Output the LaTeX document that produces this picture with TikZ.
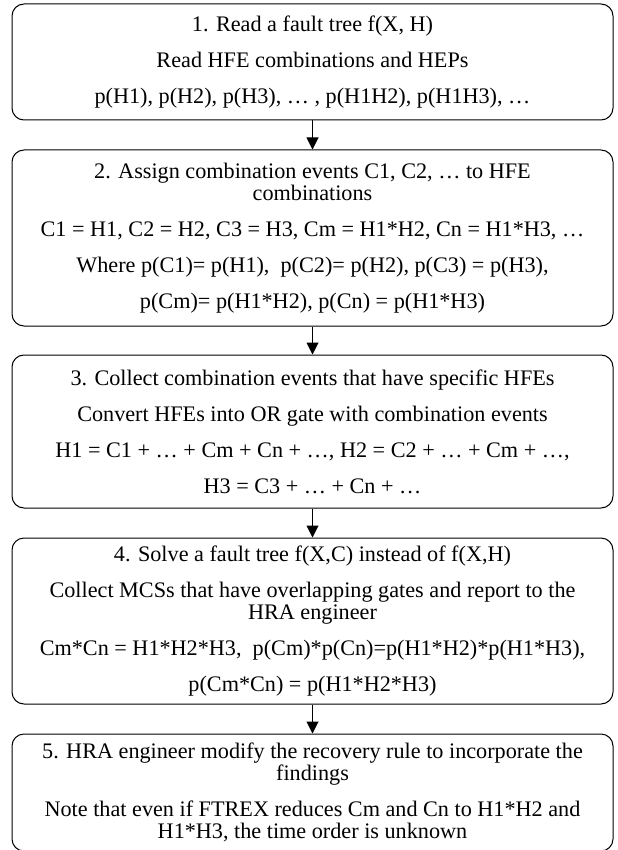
\documentclass[tikz,border=0pt]{standalone}
\usepackage{fontspec}
\setmainfont{Liberation Serif}
\usetikzlibrary{arrows.meta}
\tikzset{
  stepbox/.style={draw, rounded corners=6pt, line width=0.5pt, align=center,
    minimum width=300.5pt, inner sep=0pt, font=\fontsize{11.1}{11}\selectfont},
  flow/.style={-{Triangle[width=6pt,length=6pt]}, line width=0.5pt}
}
\begin{document}
\begin{tikzpicture}[x=0.5pt,y=-0.5pt] % pixel coordinates
\useasboundingbox (0,0) rectangle (617,850);

\node[stepbox, minimum height=58pt] (s1) at (312.5,62)
  {1. Read a fault tree f(X, H)\\[7pt]
   Read HFE combinations and HEPs\\[7pt]
   p(H1), p(H2), p(H3), … , p(H1H2), p(H1H3), …};

\node[stepbox, minimum height=88pt] (s2) at (312.5,238)
  {2. Assign combination events C1, C2, … to HFE\\
   combinations\\[7pt]
   C1 = H1, C2 = H2, C3 = H3, Cm = H1*H2, Cn = H1*H3, …\\[7pt]
   Where p(C1)= p(H1), \ p(C2)= p(H2), p(C3) = p(H3),\\[7pt]
   p(Cm)= p(H1*H2), p(Cn) = p(H1*H3)};

\node[stepbox, minimum height=76.5pt] (s3) at (312.5,431.5)
  {3. Collect combination events that have specific HFEs\\[7pt]
   Convert HFEs into OR gate with combination events\\[7pt]
   H1 = C1 + … + Cm + Cn + …, H2 = C2 + … + Cm + …,\\[7pt]
   H3 = C3 + … + Cn + …};

\node[stepbox, minimum height=83pt] (s4) at (312.5,621)
  {4. Solve a fault tree f(X,C) instead of f(X,H)\\[7pt]
   Collect MCSs that have overlapping gates and report to the\\
   HRA engineer\\[7pt]
   Cm*Cn = H1*H2*H3, \ p(Cm)*p(Cn)=p(H1*H2)*p(H1*H3),\\[7pt]
   p(Cm*Cn) = p(H1*H2*H3)};

\node[stepbox, minimum height=58.5pt] (s5) at (312.5,792.5)
  {5. HRA engineer modify the recovery rule to incorporate the\\
   findings\\[7pt]
   Note that even if FTREX reduces Cm and Cn to H1*H2 and\\
   H1*H3, the time order is unknown};

\foreach \a/\b in {s1/s2,s2/s3,s3/s4,s4/s5} {
\draw[flow] (\a) -- (\b);
}
\end{tikzpicture}
\end{document}
